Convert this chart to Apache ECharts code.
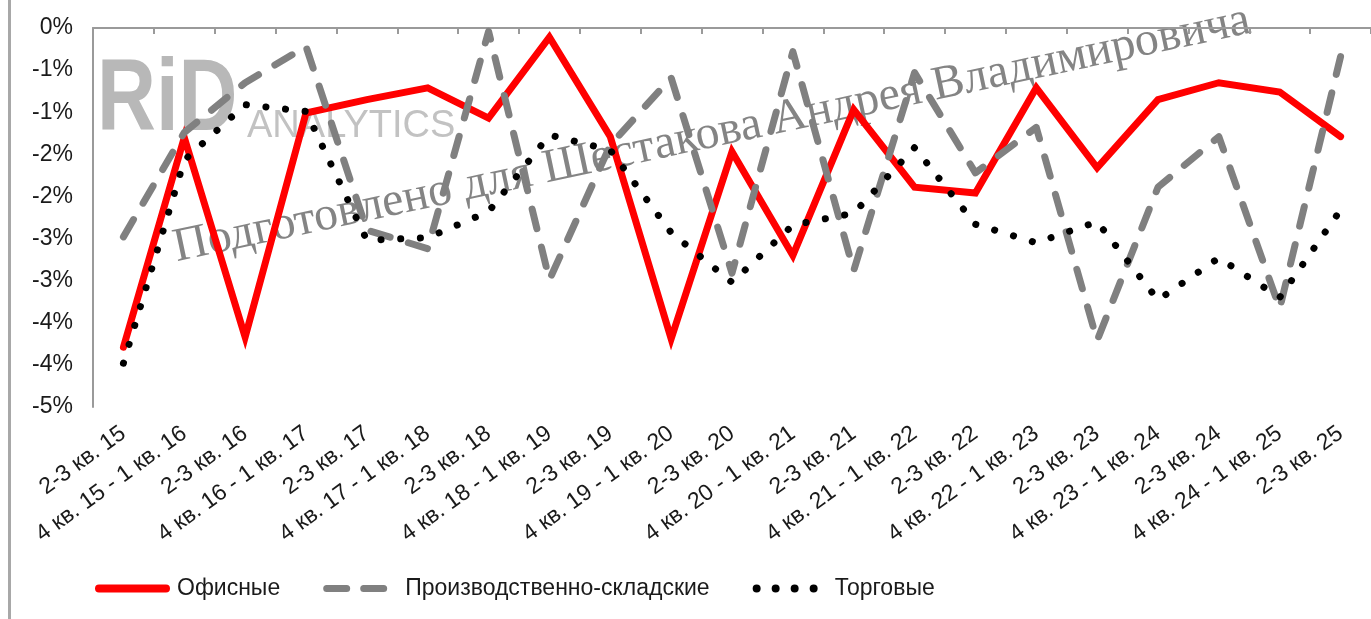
<!DOCTYPE html>
<html>
<head>
<meta charset="utf-8">
<script src="https://cdn.jsdelivr.net/npm/echarts@6/dist/echarts.min.js"></script>
<style>
html,body{margin:0;padding:0;background:#ffffff;}
#c{width:1371px;height:619px;}
</style>
</head>
<body>
<div id="c"></div>
<script>
const categories = [
  '2-3 кв. 15', '4 кв. 15 - 1 кв. 16', '2-3 кв. 16', '4 кв. 16 - 1 кв. 17',
  '2-3 кв. 17', '4 кв. 17 - 1 кв. 18', '2-3 кв. 18', '4 кв. 18 - 1 кв. 19',
  '2-3 кв. 19', '4 кв. 19 - 1 кв. 20', '2-3 кв. 20', '4 кв. 20 - 1 кв. 21',
  '2-3 кв. 21', '4 кв. 21 - 1 кв. 22', '2-3 кв. 22', '4 кв. 22 - 1 кв. 23',
  '2-3 кв. 23', '4 кв. 23 - 1 кв. 24', '2-3 кв. 24', '4 кв. 24 - 1 кв. 25',
  '2-3 кв. 25'
];
const offices    = [-3.79,-1.30,-3.67,-1.01,-0.85,-0.71,-1.07,-0.11,-1.29,-3.69,-1.47,-2.70,-0.97,-1.89,-1.96,-0.71,-1.66,-0.85,-0.65,-0.76,-1.29];
const industrial = [-2.48,-1.24,-0.65,-0.22,-2.40,-2.62,-0.04,-2.99,-1.39,-0.59,-2.91,-0.28,-2.88,-0.53,-1.72,-1.18,-3.71,-1.89,-1.29,-3.33,-0.34];
const retail     = [-3.98,-1.57,-0.91,-0.99,-2.52,-2.49,-2.18,-1.27,-1.45,-2.43,-3.02,-2.34,-2.20,-1.42,-2.33,-2.55,-2.30,-3.23,-2.73,-3.20,-2.16];
const seriesNames = ['Офисные', 'Производственно-складские', 'Торговые'];
// y tick labels from bottom (-4.5) to top (0), as printed on the chart
const yTickLabels = ['-5%','-4%','-4%','-3%','-3%','-2%','-2%','-1%','-1%','0%'];
const watermarkText = 'Подготовлено для Шестакова Андрея Владимировича';

const chart = echarts.init(document.getElementById('c'), null, {renderer: 'canvas'});

const mctx = document.createElement('canvas').getContext('2d');
mctx.font = '100px "Liberation Serif"';
const wmSize = 100 * 1100 / mctx.measureText(watermarkText).width;
const wmAng = Math.atan2(263 - 33, 1258 - 177);

const font = '"Liberation Sans", Arial, sans-serif';

// legend icons (75 x 8 box)
const pad = 'M0,0L0.01,0M75,8L74.99,8';
const iconSolid = 'path://M4,0L71,0A4,4,0,0,1,71,8L4,8A4,4,0,0,1,4,0Z' + pad;
const iconDash = 'path://M3.5,0.5L23.5,0.5A3.5,3.5,0,0,1,23.5,7.5L3.5,7.5A3.5,3.5,0,0,1,3.5,0.5Z' +
                 'M40.5,0.5L60.5,0.5A3.5,3.5,0,0,1,60.5,7.5L40.5,7.5A3.5,3.5,0,0,1,40.5,0.5Z' + pad;
function dot(cx) { return 'M' + (cx - 4) + ',4A4,4,0,1,0,' + (cx + 4) + ',4A4,4,0,1,0,' + (cx - 4) + ',4Z'; }
const iconDots = 'path://' + dot(4) + dot(23) + dot(42) + dot(61) + pad;

chart.setOption({
  animation: false,
  backgroundColor: '#ffffff',
  grid: {left: 93, right: -3, top: 28, bottom: 212, containLabel: false},
  graphic: [
    {type: 'rect', left: 8, top: 0, shape: {x: 0, y: 0, width: 3, height: 619}, style: {fill: '#a8a8a8'}, z: 0},
    {type: 'text', x: 97, y: 102, scaleX: 0.8, z: 0,
      style: {text: 'RiD', fontSize: 102, fontWeight: 'bold', fontFamily: font, fill: '#b8b8b8',
        textAlign: 'left', textVerticalAlign: 'middle', align: 'left', verticalAlign: 'middle'}},
    {type: 'text', x: 247, y: 127, z: 0,
      style: {text: 'ANALYTICS', fontSize: 38, fontFamily: font, fill: '#c2c2c2',
        textAlign: 'left', textVerticalAlign: 'middle', align: 'left', verticalAlign: 'middle'}},
    {type: 'text', x: 177, y: 263, rotation: wmAng, z: 0,
      style: {text: watermarkText, x: 0, y: -0.3 * wmSize, fontSize: wmSize, fontFamily: '"Liberation Serif", "DejaVu Serif", serif',
        fill: 'rgba(110,110,110,0.85)', textAlign: 'left', textVerticalAlign: 'middle', align: 'left', verticalAlign: 'middle'}}
  ],
  legend: {
    data: [
      {name: seriesNames[0], icon: iconSolid},
      {name: seriesNames[1], icon: iconDash},
      {name: seriesNames[2], icon: iconDots}
    ],
    left: 90,
    top: 572,
    itemWidth: 75,
    itemHeight: 8,
    itemGap: 43,
    symbolKeepAspect: true,
    textStyle: {fontSize: 23, fontFamily: font, color: '#1a1a1a', padding: [0, 0, 0, 2]}
  },
  xAxis: {
    type: 'category',
    data: categories,
    boundaryGap: true,
    axisLine: {lineStyle: {color: '#9a9a9a', width: 2}},
    axisTick: {show: true, interval: 0, length: 6, lineStyle: {color: '#9a9a9a', width: 2}},
    axisLabel: {interval: 0, rotate: 36, margin: 24, fontSize: 23, fontFamily: font, color: '#1a1a1a'},
    splitLine: {show: false}
  },
  yAxis: {
    type: 'value',
    min: -4.5,
    max: 0,
    interval: 0.5,
    axisLine: {show: true, lineStyle: {color: '#9a9a9a', width: 2}},
    axisTick: {show: false},
    splitLine: {show: false},
    axisLabel: {margin: 20, fontSize: 23, fontFamily: font, color: '#1a1a1a',
      formatter: function (v, i) { return yTickLabels[i]; }}
  },
  series: [
    {name: seriesNames[0], type: 'line', data: offices, symbol: 'none', z: 3,
      lineStyle: {color: '#ff0000', width: 7, cap: 'round', join: 'miter'}, itemStyle: {color: '#ff0000'}},
    {name: seriesNames[1], type: 'line', data: industrial, symbol: 'none', z: 4,
      lineStyle: {color: '#808080', width: 7, type: [20, 19], cap: 'round', join: 'round'}, itemStyle: {color: '#808080'}},
    {name: seriesNames[2], type: 'line', data: retail, symbol: 'none', z: 5,
      lineStyle: {color: '#000000', width: 7, type: [0.1, 19.6], cap: 'round', join: 'round'}, itemStyle: {color: '#000000'}}
  ]
});
</script>
</body>
</html>
